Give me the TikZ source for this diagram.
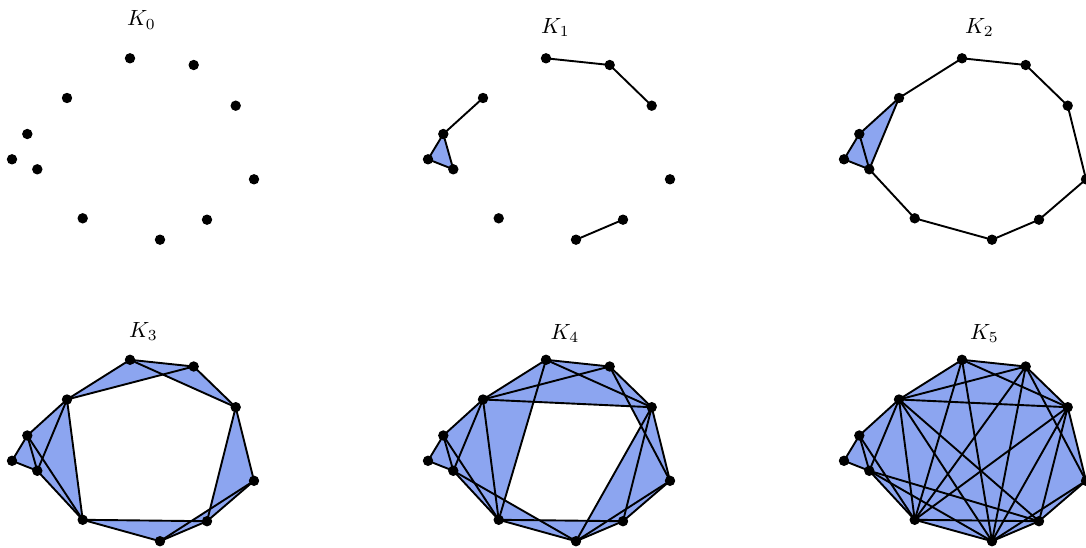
\documentclass[tikz,border=0pt]{standalone}
\usepackage{graphicx}
\definecolor{simplex}{RGB}{140,165,240}
\tikzset{
  edge/.style={line width=1.9pt, line join=round, line cap=round},
  face/.style={fill=simplex},
  vtx/.style={fill=black},
  lbl/.style={inner sep=0pt, anchor=base west}
}
\newcommand\lab[1]{\scalebox{2.2}{$K_{#1}$}}
\newcommand\setpts{%
  \coordinate (A) at (130,58.3);
  \coordinate (B) at (193.7,65);
  \coordinate (C) at (67,98);
  \coordinate (D) at (235.7,105.7);
  \coordinate (E) at (27.3,134);
  \coordinate (F) at (12,159.3);
  \coordinate (G) at (37.3,169.3);
  \coordinate (H) at (254,179.3);
  \coordinate (I) at (82.7,218.3);
  \coordinate (J) at (207,219.7);
  \coordinate (L) at (160,239.7);
}
\newcommand\drawverts{\foreach \v in {A,B,C,D,E,F,G,H,I,J,L} \fill[vtx] (\v) circle (5.2);}
\begin{document}
\begin{tikzpicture}[x=1pt,y=-1pt]
\useasboundingbox (0,0) rectangle (1086,548);
% K0
\begin{scope}
  \setpts
  \drawverts
\end{scope}
\node[lbl] (k0) at (127,26) {\lab{0}};
% K1
\begin{scope}[shift={(416,0)}]
  \setpts
  \fill[face] (E)--(F)--(G)--cycle;
  \draw[edge] (A)--(B) (B)--(D) (C)--(E) (E)--(F) (F)--(G) (E)--(G) (J)--(L);
  \drawverts
\end{scope}
\node[lbl] (k1) at (541,33.5) {\lab{1}};
% K2
\begin{scope}[shift={(832,0)}]
  \setpts
  \fill[face] (E)--(F)--(G)--cycle;
  \fill[face] (C)--(E)--(G)--cycle;
  \draw[edge] (A)--(B) (B)--(D) (D)--(H) (H)--(J) (J)--(L) (L)--(I) (I)--(G)
    (A)--(C) (C)--(E) (C)--(G) (E)--(F) (F)--(G) (E)--(G);
  \drawverts
\end{scope}
\node[lbl] (k2) at (965,33.5) {\lab{2}};
% K3
\begin{scope}[shift={(0,301.5)}]
  \setpts
  \foreach \a/\b/\c in {E/F/G,C/E/G,A/B/C,A/B/D,C/E/I,C/G/I,E/G/I,D/H/J,H/J/L,I/J/L}
    \fill[face] (\a)--(\b)--(\c)--cycle;
  \foreach \a/\b in {A/B,B/D,D/H,H/J,J/L,L/I,I/G,A/C,C/E,C/G,E/F,F/G,E/G,
                     B/C,A/D,C/I,E/I,D/J,H/L,I/J}
    \draw[edge] (\a)--(\b);
  \drawverts
\end{scope}
\node[lbl] (k3) at (129,337.5) {\lab{3}};
% K4
\begin{scope}[shift={(416,301.5)}]
  \setpts
  \foreach \a/\b/\c in {E/F/G,C/E/G,A/B/C,A/B/D,C/E/I,C/G/I,E/G/I,D/H/J,H/J/L,I/J/L,
                        A/C/D,B/C/D,A/C/I,B/D/H,D/J/L,G/I/L}
    \fill[face] (\a)--(\b)--(\c)--cycle;
  \foreach \a/\b in {A/B,B/D,D/H,H/J,J/L,L/I,I/G,A/C,C/E,C/G,E/F,F/G,E/G,
                     B/C,A/D,C/I,E/I,D/J,H/L,I/J,
                     C/D,A/I,B/H,D/L,G/L}
    \draw[edge] (\a)--(\b);
  \drawverts
\end{scope}
\node[lbl] (k4) at (550.5,339.5) {\lab{4}};
% K5
\begin{scope}[shift={(832,301.5)}]
  \setpts
  \fill[face] (A)--(B)--(D)--(H)--(J)--(L)--(I)--(G)--(F)--(E)--(C)--cycle;
  \foreach \a/\b in {A/B,B/D,D/H,H/J,J/L,L/I,I/G,A/C,C/E,C/G,E/F,F/G,E/G,
                     B/C,A/D,C/I,E/I,D/J,H/L,I/J,
                     C/D,A/I,B/H,D/L,G/L,
                     A/L,B/L,B/I,D/I,C/J,C/L,G/J}
    \draw[edge] (\a)--(\b);
  \drawverts
\end{scope}
\node[lbl] (k5) at (970,339.5) {\lab{5}};
\end{tikzpicture}
\end{document}
